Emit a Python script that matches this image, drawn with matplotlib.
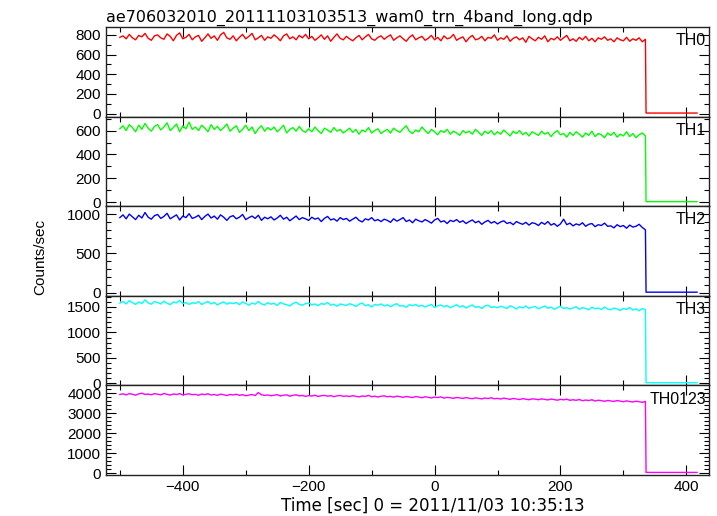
import numpy as np
import matplotlib
matplotlib.use("Agg")
import matplotlib.pyplot as plt
from matplotlib.ticker import MultipleLocator
from matplotlib.font_manager import FontProperties

plt.rcParams['font.family'] = 'Liberation Sans'

title = "ae706032010_20111103103513_wam0_trn_4band_long.qdp"
xlabel = "Time [sec] 0 = 2011/11/03 10:35:13"
ylabel = "Counts/sec"
band_names = ["TH0", "TH1", "TH2", "TH3", "TH0123"]
colors = ["#ff0000", "#00ff00", "#0000ff", "#00ffff", "#ff00ff"]

# 5-second samples from -500 s to 335 s
t_start, t_step = -500, 5

th0 = [775, 790, 760, 805, 770, 750, 795, 780, 815, 765, 745, 790,
       800, 770, 755, 810, 785, 740, 795, 820, 760, 775, 805, 750,
       780, 795, 735, 770, 810, 765, 790, 745, 800, 825, 770, 755,
       790, 740, 775, 805, 760, 785, 815, 750, 770, 795, 745, 780,
       765, 800, 775, 740, 790, 810, 760, 780, 750, 795, 770, 805,
       760, 785, 745, 770, 800, 755, 790, 735, 775, 810, 765, 750,
       785, 760, 740, 770, 795, 750, 780, 805, 760, 745, 775, 790,
       755, 780, 800, 745, 770, 790, 760, 735, 775, 800, 750, 770,
       785, 745, 765, 795, 750, 775, 740, 790, 760, 770, 805, 745,
       765, 780, 730, 770, 795, 750, 760, 785, 740, 775, 765, 800,
       745, 770, 755, 790, 735, 765, 780, 750, 770, 725, 785, 760,
       740, 775, 755, 790, 730, 765, 750, 780, 745, 770, 795, 740,
       760, 735, 775, 750, 785, 740, 765, 730, 770, 755, 780, 745,
       760, 730, 770, 750, 740, 775, 735, 760, 745, 770, 730, 755]

th1 = [615, 640, 600, 650, 625, 590, 645, 610, 660, 620, 595, 635,
       650, 605, 630, 665, 600, 625, 655, 590, 640, 615, 670, 610,
       630, 600, 645, 620, 590, 650, 610, 635, 600, 625, 655, 595,
       620, 640, 585, 610, 645, 600, 630, 575, 615, 640, 595, 625,
       605, 630, 590, 615, 645, 580, 610, 625, 595, 635, 600, 585,
       615, 590, 630, 600, 575, 620, 605, 585, 625, 595, 610, 580,
       600, 620, 585, 610, 570, 605, 590, 625, 580, 600, 615, 575,
       595, 610, 580, 620, 600, 585, 615, 640, 595, 575, 605, 590,
       630, 600, 575, 610, 590, 565, 600, 585, 610, 570, 595, 580,
       560, 600, 580, 595, 570, 610, 585, 560, 595, 575, 600, 565,
       590, 570, 605, 580, 555, 595, 575, 600, 565, 585, 555, 590,
       575, 560, 595, 570, 585, 550, 580, 600, 565, 575, 545, 585,
       560, 590, 570, 545, 580, 560, 595, 550, 575, 565, 540, 580,
       560, 585, 545, 570, 555, 590, 550, 575, 540, 565, 580, 555]

th2 = [955, 990, 940, 1000, 965, 930, 985, 950, 1020, 960, 935, 980,
       995, 945, 970, 1010, 940, 965, 990, 925, 975, 955, 1005, 945,
       960, 985, 930, 970, 1000, 950, 975, 935, 990, 960, 920, 965,
       980, 940, 960, 995, 930, 955, 975, 945, 985, 920, 960, 940,
       965, 925, 950, 985, 935, 960, 915, 945, 975, 930, 955, 940,
       920, 960, 935, 950, 905, 945, 970, 925, 940, 910, 955, 930,
       945, 910, 935, 960, 920, 900, 940, 925, 955, 915, 930, 905,
       935, 920, 895, 940, 910, 930, 955, 905, 925, 890, 935, 915,
       900, 930, 910, 885, 925, 945, 900, 915, 880, 920, 905, 930,
       895, 915, 880, 905, 925, 890, 910, 870, 900, 920, 885, 905,
       875, 900, 915, 880, 895, 865, 905, 885, 870, 895, 860, 890,
       880, 855, 895, 870, 905, 860, 880, 845, 875, 935, 865, 885,
       850, 875, 860, 890, 845, 870, 880, 840, 865, 855, 885, 845,
       850, 825, 865, 840, 855, 820, 860, 835, 845, 870, 830, 800]

th3 = [1575, 1610, 1560, 1625, 1585, 1550, 1600, 1570, 1640, 1580, 1555, 1605,
       1590, 1560, 1615, 1575, 1545, 1600, 1580, 1630, 1565, 1590, 1550, 1585,
       1570, 1605, 1550, 1580, 1610, 1560, 1590, 1540, 1575, 1600, 1555, 1585,
       1565, 1590, 1545, 1600, 1570, 1535, 1580, 1555, 1610, 1560, 1540, 1585,
       1555, 1575, 1530, 1590, 1560, 1545, 1520, 1570, 1595, 1550, 1535, 1565,
       1580, 1540, 1560, 1525, 1570, 1550, 1590, 1535, 1555, 1515, 1560, 1545,
       1530, 1565, 1545, 1510, 1555, 1580, 1525, 1545, 1500, 1550, 1535, 1560,
       1520, 1545, 1505, 1540, 1565, 1515, 1530, 1495, 1545, 1525, 1550, 1510,
       1535, 1500, 1525, 1550, 1490, 1520, 1540, 1505, 1530, 1485, 1515, 1545,
       1500, 1525, 1480, 1515, 1540, 1495, 1510, 1470, 1520, 1535, 1490, 1505,
       1485, 1515, 1495, 1470, 1525, 1500, 1460, 1505, 1480, 1520, 1475, 1495,
       1510, 1465, 1490, 1520, 1475, 1500, 1455, 1485, 1515, 1470, 1490, 1460,
       1480, 1505, 1455, 1490, 1470, 1445, 1495, 1465, 1480, 1450, 1500, 1460,
       1445, 1480, 1460, 1430, 1475, 1450, 1490, 1440, 1465, 1425, 1470, 1445]

th0123 = [3940, 3980, 3920, 3990, 3955, 3910, 3975, 4010, 3945, 3965, 3930, 3985,
          3960, 3925, 3995, 3950, 3915, 3970, 3940, 3990, 3920, 3955, 3975, 3935,
          3950, 3905, 3965, 3935, 3980, 3915, 3945, 3900, 3960, 3930, 3890, 3945,
          3920, 3955, 3900, 3935, 3880, 3915, 3945, 3890, 4040, 3930, 3895, 3920,
          3880, 3910, 3935, 3870, 3905, 3925, 3860, 3900, 3930, 3875, 3895, 3850,
          3890, 3865, 3910, 3845, 3880, 3900, 3860, 3885, 3835, 3875, 3895, 3850,
          3870, 3840, 3885, 3855, 3820, 3870, 3845, 3900, 3830, 3860, 3815, 3855,
          3875, 3830, 3850, 3810, 3860, 3835, 3800, 3845, 3820, 3790, 3840, 3815,
          3780, 3830, 3800, 3770, 3815, 3790, 3825, 3760, 3800, 3780, 3750, 3795,
          3770, 3745, 3790, 3755, 3730, 3775, 3750, 3720, 3765, 3740, 3780, 3725,
          3750, 3715, 3760, 3730, 3700, 3745, 3720, 3690, 3735, 3705, 3680, 3725,
          3710, 3680, 3725, 3695, 3670, 3715, 3690, 3655, 3700, 3675, 3710, 3650,
          3680, 3650, 3695, 3630, 3665, 3640, 3680, 3615, 3655, 3635, 3600, 3645,
          3620, 3595, 3640, 3610, 3580, 3625, 3590, 3565, 3610, 3580, 3550, 3595]

# after the drop (t > 335 s)
tail_t = [336, 417]
tail_vals = [6, 5, 8, 12, 30]

series = [th0, th1, th2, th3, th0123]
ylims = [(-30, 880), (-33, 717), (-38, 1100), (-40, 1720), (-100, 4400)]
ymajor = [200, 200, 500, 500, 1000]
yminor = [100, 100, 100, 100, 200]

lib = FontProperties(family='Liberation Sans', size=11)
lib_lab = FontProperties(family='Liberation Sans', size=11.5)
title_fp = FontProperties(family='DejaVu Sans', size=11.5)
xlab_fp = FontProperties(family='DejaVu Sans', size=12)

fig = plt.figure(figsize=(7.17, 5.16), dpi=100)
gs = fig.add_gridspec(5, 1, left=106/717, right=709/717, top=1-27/516,
                      bottom=1-475/516, hspace=0)

for i, (vals, name, col) in enumerate(zip(series, band_names, colors)):
    ax = fig.add_subplot(gs[i])
    t = t_start + t_step * np.arange(len(vals))
    x = np.concatenate([t, tail_t])
    y = np.concatenate([vals, [tail_vals[i], tail_vals[i]]])
    ax.plot(x, y, color=col, lw=1.0)
    ax.set_xlim(-522, 436)
    ax.set_ylim(*ylims[i])
    ax.xaxis.set_major_locator(MultipleLocator(200))
    ax.xaxis.set_minor_locator(MultipleLocator(100))
    ax.yaxis.set_major_locator(MultipleLocator(ymajor[i]))
    ax.yaxis.set_minor_locator(MultipleLocator(yminor[i]))
    ax.tick_params(which='both', direction='in', top=True, right=True,
                   colors='black', width=0.8)
    ax.tick_params(which='major', length=7)
    ax.tick_params(which='minor', length=3.5)
    for s in ax.spines.values():
        s.set_linewidth(1.0)
        s.set_color('#222222')
    if i < 4:
        ax.tick_params(labelbottom=False)
    for lab in ax.get_yticklabels() + ax.get_xticklabels():
        lab.set_fontproperties(lib)
    ax.text(0.995, 0.93, name, transform=ax.transAxes, ha='right', va='top',
            fontproperties=lib_lab)
    if i == 0:
        ax.set_title(title, loc='left', pad=4, fontproperties=title_fp)
    if i == 4:
        ax.set_xlabel(xlabel, fontproperties=xlab_fp)
        ax.xaxis.set_label_coords((433 - 106) / 603, -0.245)

fig.text(40/717, 1-257/516, ylabel, rotation=90, ha='center', va='center',
         fontproperties=lib)

fig.savefig("out.png", dpi=100)
